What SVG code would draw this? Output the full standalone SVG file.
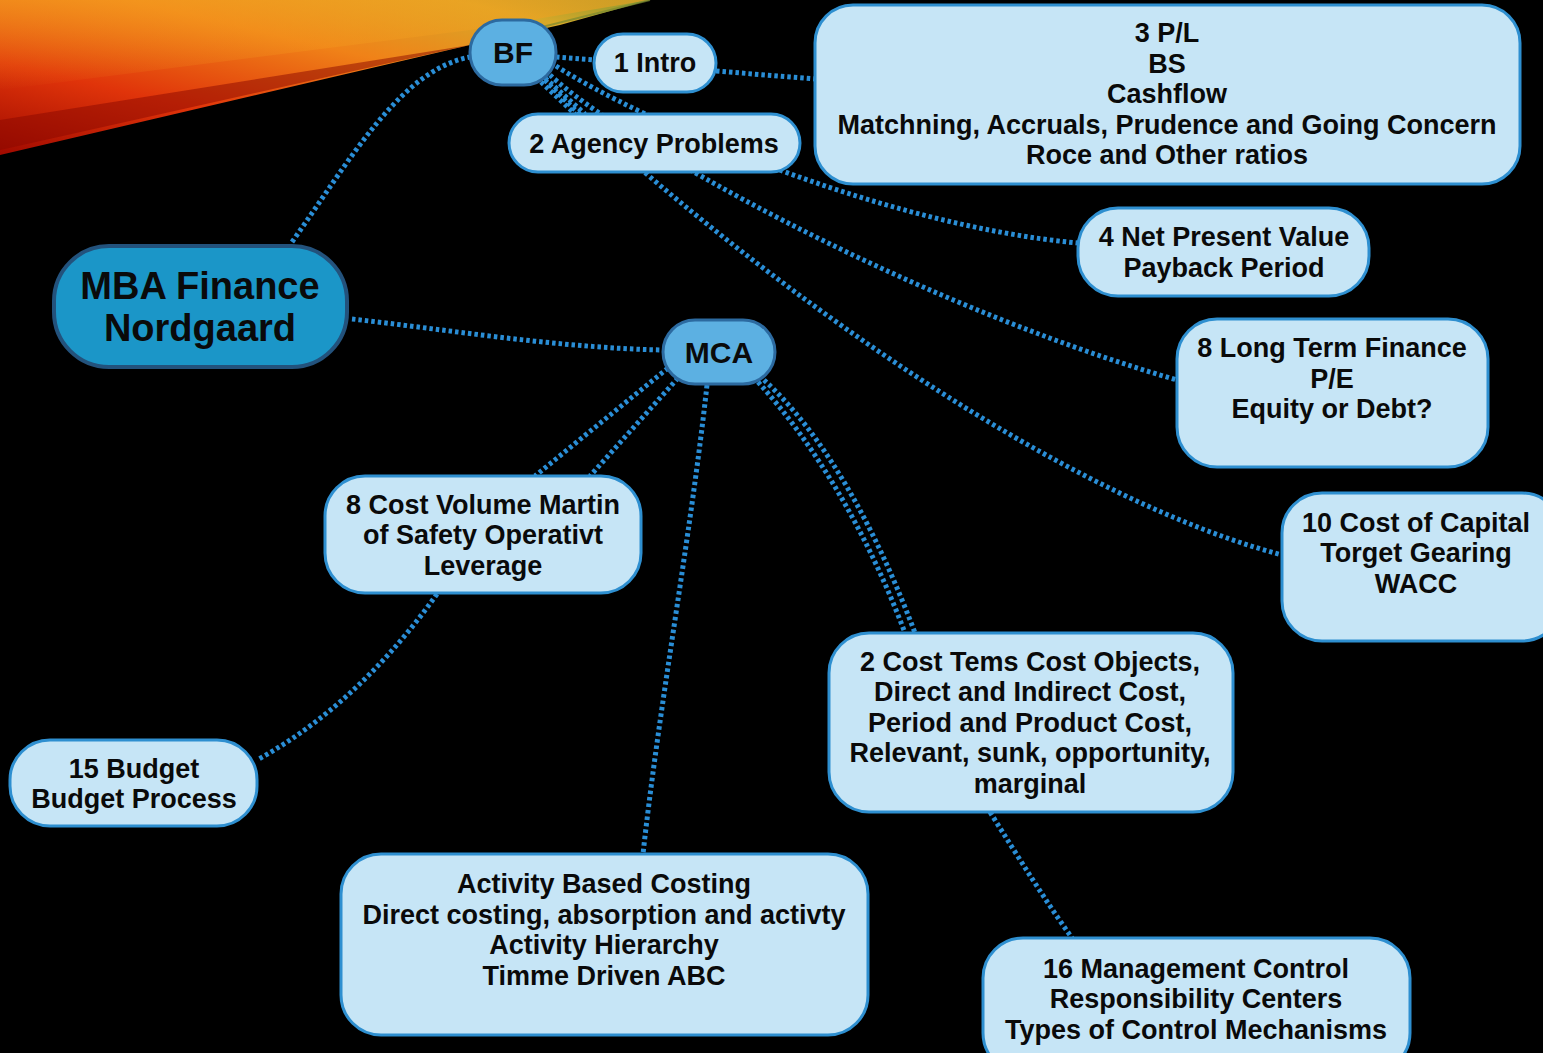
<svg xmlns="http://www.w3.org/2000/svg" width="1543" height="1053" viewBox="0 0 1543 1053">
<defs>
<linearGradient id="streak" x1="0" y1="1" x2="1" y2="0">
<stop offset="0" stop-color="#a00a00"/>
<stop offset="0.3" stop-color="#e0340a"/>
<stop offset="0.6" stop-color="#f08218"/>
<stop offset="0.85" stop-color="#d8a828"/>
<stop offset="1" stop-color="#8a9a30"/>
</linearGradient>
<linearGradient id="streak2" x1="0" y1="0" x2="0" y2="1">
<stop offset="0" stop-color="#f5a020" stop-opacity="0.6"/>
<stop offset="1" stop-color="#f5a020" stop-opacity="0"/>
</linearGradient>
<style>
.bg{fill:#000}
.light{fill:#c6e5f6;stroke:#2e8fd0;stroke-width:3}
.mid{fill:#5cb0e2;stroke:#2c6aa0;stroke-width:3}
.root{fill:#1b96c8;stroke:#23527c;stroke-width:4}
.t{font-family:"Liberation Sans",Arial,sans-serif;font-weight:bold;fill:#0a0a0a;text-anchor:middle}
.t27{font-size:27px}
.t30{font-size:30px}
.t38{font-size:38px}
.c{fill:none;stroke:#2a8ed6;stroke-width:5;stroke-dasharray:3.5 3}
</style>
</defs>
<rect class="bg" x="0" y="0" width="1543" height="1053"/>
<g id="decoration">
<polygon points="0,0 650,0 560,25 470,45 0,155" fill="url(#streak)"/>
<polygon points="0,0 650,0 470,30 0,90" fill="url(#streak2)"/>
<polygon points="0,120 470,45 0,150" fill="#8a0800" opacity="0.5"/>
<line x1="470" y1="45" x2="650" y2="0" stroke="#7a8a30" stroke-width="2" opacity="0.7"/>
</g>
<g id="connectors">
<path class="c" d="M292,242 C350,160 400,70 470,57"/>
<path class="c" d="M352,319 C450,330 560,348 663,350"/>
<path class="c" d="M556,57 L594,60"/>
<path class="c" d="M716,71 L815,79"/>
<path class="c" d="M545,78 L585,114"/>
<path class="c" d="M541,82 L575,114"/>
<path class="c" d="M556,66 C640,120 880,225 1078,243"/>
<path class="c" d="M550,75 C620,140 900,300 1177,380"/>
<path class="c" d="M545,80 C640,180 1000,480 1282,555"/>
<path class="c" d="M668,368 L535,476"/>
<path class="c" d="M678,378 L590,476"/>
<path class="c" d="M707,385 C690,540 660,700 643,854"/>
<path class="c" d="M758,382 C820,450 870,540 905,633"/>
<path class="c" d="M764,380 C830,440 880,540 915,633"/>
<path class="c" d="M437,594 C390,660 330,720 257,760"/>
<path class="c" d="M990,812 C1020,860 1045,900 1072,938"/>
</g>
<g id="n-root"><rect class="root" x="54" y="246" width="293" height="121" rx="55"/>
<text class="t t38" x="200" y="299">MBA Finance</text><text class="t t38" x="200" y="341">Nordgaard</text></g>
<g id="n-bf"><rect class="mid" x="470" y="20" width="86" height="65" rx="32"/>
<text class="t t30" x="513" y="63">BF</text></g>
<g id="n-mca"><rect class="mid" x="663" y="320" width="112" height="64" rx="32"/>
<text class="t t30" x="719" y="363">MCA</text></g>
<g id="n-intro"><rect class="light" x="594" y="34" width="122" height="58" rx="29"/>
<text class="t t27" x="655" y="72">1 Intro</text></g>
<g id="n-agency"><rect class="light" x="509" y="114" width="291" height="58" rx="29"/>
<text class="t t27" x="654" y="153">2 Agency Problems</text></g>
<g id="n-pl"><rect class="light" x="815" y="5" width="705" height="179" rx="38"/>
<text class="t t27" x="1167" y="42">3 P/L</text>
<text class="t t27" x="1167" y="73">BS</text>
<text class="t t27" x="1167" y="103">Cashflow</text>
<text class="t t27" x="1167" y="134">Matchning, Accruals, Prudence and Going Concern</text>
<text class="t t27" x="1167" y="164">Roce and Other ratios</text></g>
<g id="n-npv"><rect class="light" x="1078" y="208" width="291" height="88" rx="40"/>
<text class="t t27" x="1224" y="246">4 Net Present Value</text>
<text class="t t27" x="1224" y="277">Payback Period</text></g>
<g id="n-ltf"><rect class="light" x="1177" y="319" width="311" height="148" rx="40"/>
<text class="t t27" x="1332" y="357">8 Long Term Finance</text>
<text class="t t27" x="1332" y="388">P/E</text>
<text class="t t27" x="1332" y="418">Equity or Debt?</text></g>
<g id="n-coc"><rect class="light" x="1282" y="493" width="280" height="148" rx="40"/>
<text class="t t27" x="1416" y="532">10 Cost of Capital</text>
<text class="t t27" x="1416" y="562">Torget Gearing</text>
<text class="t t27" x="1416" y="593">WACC</text></g>
<g id="n-cvm"><rect class="light" x="325" y="476" width="316" height="117" rx="40"/>
<text class="t t27" x="483" y="514">8 Cost Volume Martin</text>
<text class="t t27" x="483" y="544">of Safety Operativt</text>
<text class="t t27" x="483" y="575">Leverage</text></g>
<g id="n-ct"><rect class="light" x="829" y="633" width="404" height="179" rx="40"/>
<text class="t t27" x="1030" y="671">2 Cost Tems Cost Objects,</text>
<text class="t t27" x="1030" y="701">Direct and Indirect Cost,</text>
<text class="t t27" x="1030" y="732">Period and Product Cost,</text>
<text class="t t27" x="1030" y="762">Relevant, sunk, opportunity,</text>
<text class="t t27" x="1030" y="793">marginal</text></g>
<g id="n-budget"><rect class="light" x="10" y="740" width="247" height="86" rx="40"/>
<text class="t t27" x="134" y="778">15 Budget</text>
<text class="t t27" x="134" y="808">Budget Process</text></g>
<g id="n-abc"><rect class="light" x="341" y="854" width="527" height="181" rx="40"/>
<text class="t t27" x="604" y="893">Activity Based Costing</text>
<text class="t t27" x="604" y="924">Direct costing, absorption and activty</text>
<text class="t t27" x="604" y="954">Activity Hierarchy</text>
<text class="t t27" x="604" y="985">Timme Driven ABC</text></g>
<g id="n-mgmt"><rect class="light" x="983" y="938" width="427" height="135" rx="40"/>
<text class="t t27" x="1196" y="978">16 Management Control</text>
<text class="t t27" x="1196" y="1008">Responsibility Centers</text>
<text class="t t27" x="1196" y="1039">Types of Control Mechanisms</text></g>
</svg>
